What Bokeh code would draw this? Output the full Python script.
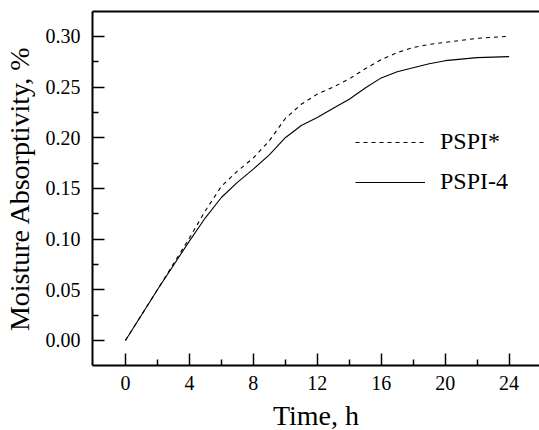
from bokeh.plotting import figure
from bokeh.models import (FixedTicker, PrintfTickFormatter, Range1d, LinearAxis,
                          Legend, LegendItem, ColumnDataSource)
from bokeh.embed import file_html
from bokeh.resources import INLINE

# Data
time_h = [0, 2, 4, 5, 6, 7, 8, 9, 10, 11, 12, 13, 14, 15, 16, 17, 18, 19, 20, 22, 24]
pspi_star = [0.0, 0.050, 0.101, 0.128, 0.152, 0.167, 0.180, 0.197, 0.219, 0.233, 0.243,
             0.250, 0.258, 0.268, 0.277, 0.284, 0.289, 0.292, 0.294, 0.298, 0.300]
pspi_4 = [0.0, 0.050, 0.098, 0.121, 0.141, 0.156, 0.169, 0.183, 0.200, 0.212, 0.220,
          0.229, 0.238, 0.249, 0.259, 0.265, 0.269, 0.273, 0.276, 0.279, 0.280]

x_ticks = [0, 4, 8, 12, 16, 20, 24]
x_minor = [2, 6, 10, 14, 18, 22]
y_ticks = [0.00, 0.05, 0.10, 0.15, 0.20, 0.25, 0.30]
y_minor = [0.025, 0.075, 0.125, 0.175, 0.225, 0.275]

FONT = "Liberation Serif"

p = figure(frame_width=447, frame_height=354, output_backend="svg",
           toolbar_location=None, min_border_left=84, min_border_top=11,
           min_border_right=0, min_border_bottom=4,
           x_range=Range1d(-2.06, 25.9), y_range=Range1d(-0.0247, 0.3245))
p.background_fill_color = "white"
p.border_fill_color = "white"
p.outline_line_color = None
p.xgrid.visible = False
p.ygrid.visible = False

src = ColumnDataSource(dict(t=time_h, a=pspi_star, b=pspi_4))
r1 = p.line("t", "a", source=src, line_color="black", line_width=1.1, line_dash="4 4")
r2 = p.line("t", "b", source=src, line_color="black", line_width=1.1)

for ax in (p.xaxis[0], p.yaxis[0]):
    ax.axis_line_width = 2
    ax.axis_line_color = "black"
    ax.major_tick_in = 12
    ax.major_tick_out = 0
    ax.minor_tick_in = 6
    ax.minor_tick_out = 0
    ax.major_tick_line_width = 1.5
    ax.minor_tick_line_width = 1.5
    ax.major_label_text_font = FONT
    ax.major_label_text_font_size = "20px"
    ax.major_label_text_color = "black"
    ax.axis_label_text_font = FONT
    ax.axis_label_text_font_size = "28px"
    ax.axis_label_text_font_style = "normal"
    ax.axis_label_text_color = "black"

p.xaxis.ticker = FixedTicker(ticks=x_ticks, minor_ticks=x_minor)
p.yaxis.ticker = FixedTicker(ticks=y_ticks, minor_ticks=y_minor)
p.yaxis.formatter = PrintfTickFormatter(format="%.2f")
p.xaxis.axis_label = "Time, h"
p.yaxis.axis_label = "Moisture Absorptivity, %"
p.xaxis.major_label_standoff = 10
p.xaxis.axis_label_standoff = 7
p.yaxis.major_label_standoff = 12
p.yaxis.axis_label_standoff = 8

top = LinearAxis(major_tick_in=0, major_tick_out=0, minor_tick_in=0, minor_tick_out=0,
                 major_label_text_font_size="0px", axis_line_width=2,
                 ticker=FixedTicker(ticks=[]))
p.add_layout(top, "above")

legend = Legend(items=[LegendItem(label="PSPI*", renderers=[r1]),
                       LegendItem(label="PSPI-4", renderers=[r2])],
                location=(263, 170), glyph_width=70, glyph_height=20,
                label_height=20, label_standoff=15, spacing=13, padding=0, margin=0,
                border_line_color=None, background_fill_alpha=0,
                label_text_font=FONT, label_text_font_size="24px",
                label_text_color="black")
p.add_layout(legend)

open("out.html", "w").write(file_html(p, INLINE))
